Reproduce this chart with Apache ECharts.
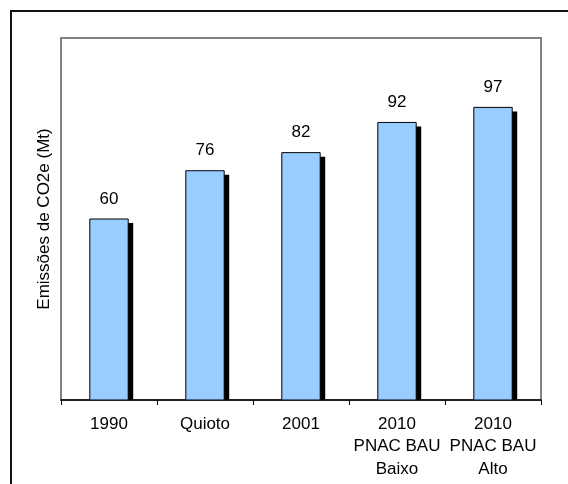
<!DOCTYPE html>
<html>
<head>
<meta charset="utf-8">
<script src="https://cdn.jsdelivr.net/npm/echarts@6/dist/echarts.min.js"></script>
<style>
  html, body { margin: 0; padding: 0; background: #fff; overflow: hidden; }
  #frame { position: absolute; left: 10px; top: 10px; width: 640px; height: 560px; border: 2px solid #111; box-sizing: border-box; }
  #chart { position: absolute; left: 0; top: 0; width: 568px; height: 484px; }
</style>
</head>
<body>
<div id="frame"></div>
<div id="chart"></div>
<script>
// Emissions of CO2e (Mt) by scenario
const categories = ['1990', 'Quioto', '2001', '2010\nPNAC BAU\nBaixo', '2010\nPNAC BAU\nAlto'];
const emissions = [60, 76, 82, 92, 97];

const chart = echarts.init(document.getElementById('chart'), null, { renderer: 'canvas' });
const font = 'Liberation Sans, Arial, sans-serif';
const fontSize = 17;

// Bar with a hard drop shadow (offset right/down), clipped at the baseline, plus its value label
function renderBar(params, api) {
  const idx = api.value(0);
  const val = api.value(1);
  const top = api.coord([idx, val]);
  const base = api.coord([idx, 0]);
  const w = api.size([1, 0])[0] * 0.4;
  const x = top[0] - w / 2;
  const h = base[1] - top[1];
  const sx = 5, sy = 4;
  return {
    type: 'group',
    children: [
      { type: 'rect', shape: { x: x + sx, y: top[1] + sy, width: w, height: h - sy }, style: { fill: '#000' } },
      { type: 'rect', shape: { x: x, y: top[1], width: w, height: h }, style: { fill: '#99CCFF', stroke: '#000', lineWidth: 1 } },
      { type: 'text', style: { text: String(val), x: top[0], y: top[1] - 20, align: 'center', verticalAlign: 'middle',
          fill: '#000', font: fontSize + 'px ' + font } }
    ]
  };
}

chart.setOption({
  animation: false,
  grid: {
    left: 61, top: 38, right: 27, bottom: 84,
    show: true, borderColor: '#808080', borderWidth: 2, backgroundColor: '#fff'
  },
  xAxis: {
    type: 'category',
    data: categories,
    axisLine: { show: true, lineStyle: { color: '#000', width: 1.5 } },
    axisTick: { show: true, length: 5, interval: 0, lineStyle: { color: '#000' } },
    axisLabel: { interval: 0, color: '#000', fontFamily: font, fontSize: fontSize, lineHeight: 22.5, margin: 13 }
  },
  yAxis: {
    type: 'value',
    min: 0, max: 120,
    name: 'Emissões de CO2e (Mt)',
    nameLocation: 'middle',
    nameGap: 8,
    nameTextStyle: { color: '#000', fontFamily: font, fontSize: fontSize },
    axisLine: { show: false },
    axisTick: { show: false },
    axisLabel: { show: false },
    splitLine: { show: false }
  },
  series: [{
    type: 'custom',
    renderItem: renderBar,
    encode: { x: 0, y: 1 },
    data: emissions.map((v, i) => [i, v]),
    clip: true
  }]
});
</script>
</body>
</html>
